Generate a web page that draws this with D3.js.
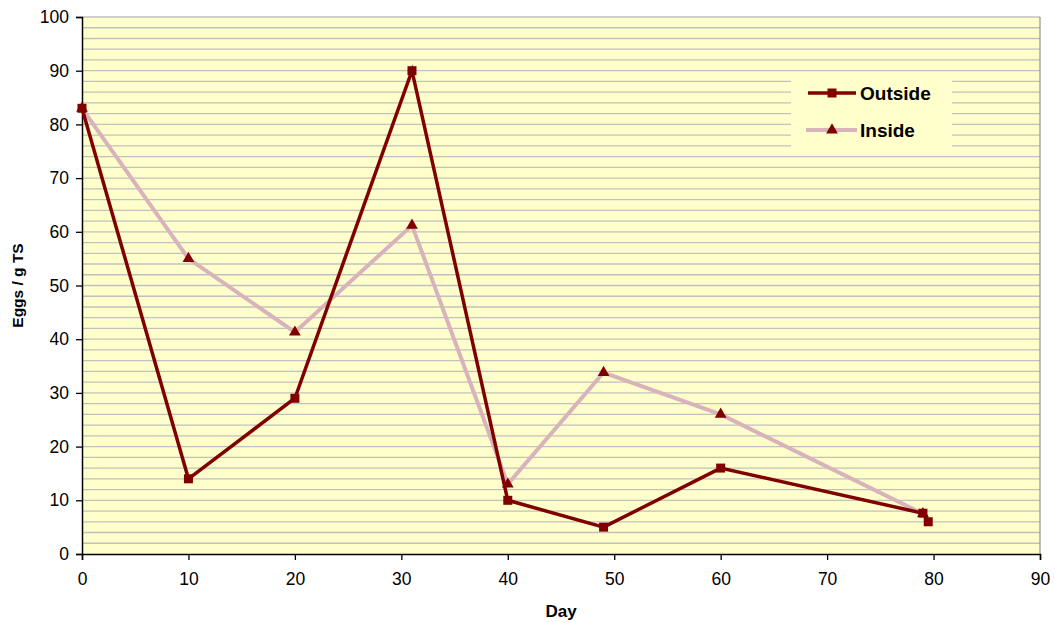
<!DOCTYPE html>
<html><head><meta charset="utf-8">
<script src="https://cdn.jsdelivr.net/npm/d3@7"></script>
<style>body{margin:0;background:#fff}svg{display:block}text{font-family:"Liberation Sans",Arial,sans-serif}</style>
</head><body><svg id="c" width="1055" height="623"></svg>
<script>
const outsideX = [0, 10, 20, 31, 40, 49, 60, 79, 79.5];
const outsideY = [83, 14, 29, 90, 10, 5, 16, 7.6, 6];
const insideX = [0, 10, 20, 31, 40, 49, 60, 79];
const insideY = [83, 55, 41.3, 61.2, 13, 33.8, 26, 7.5];
const xTicks = [0,10,20,30,40,50,60,70,80,90];
const yTicks = [0,10,20,30,40,50,60,70,80,90,100];
const seriesNames = ["Outside", "Inside"];

const svg = d3.select("#c");
const L=82, R=1040, T=17, B=554;
const x = d3.scaleLinear().domain([0,90]).range([L,R]);
const y = d3.scaleLinear().domain([0,100]).range([B,T]);

svg.append("rect").attr("x",L).attr("y",T).attr("width",R-L).attr("height",B-T).attr("fill","#FFFFCC");
const grid = d3.range(2,101,2);
svg.append("g").selectAll("line").data(grid).join("line")
  .attr("x1",L).attr("x2",R).attr("y1",d=>y(d)).attr("y2",d=>y(d))
  .attr("stroke","#c0c0c0").attr("stroke-width",1.3);
svg.append("line").attr("x1",R).attr("x2",R).attr("y1",T).attr("y2",B).attr("stroke","#999").attr("stroke-width",1.3);

const yAxis = svg.append("g").attr("transform",`translate(${L},0)`)
  .call(d3.axisLeft(y).tickValues(yTicks).tickSize(6).tickPadding(7));
const xAxis = svg.append("g").attr("transform",`translate(0,${B})`)
  .call(d3.axisBottom(x).tickValues(xTicks).tickSize(6).tickPadding(13));
[yAxis,xAxis].forEach(a=>{
  a.select(".domain").attr("stroke","#000").attr("stroke-width",1.5);
  a.selectAll(".tick line").attr("stroke","#000").attr("stroke-width",1.3);
  a.selectAll("text").attr("font-size",17.5).attr("fill","#000").attr("font-family","'Liberation Sans',Arial,sans-serif");
});

const line = d3.line().x(d=>x(d[0])).y(d=>y(d[1]));
const inside = insideX.map((v,i)=>[v,insideY[i]]);
const outside = outsideX.map((v,i)=>[v,outsideY[i]]);

svg.append("path").datum(inside).attr("d",line).attr("fill","none").attr("stroke","#D9B3BB").attr("stroke-width",4);
const tri = d3.symbol().type(d3.symbolTriangle).size(60);
svg.append("g").selectAll("path").data(inside).join("path")
  .attr("d",tri).attr("transform",d=>`translate(${x(d[0])},${y(d[1])})`).attr("fill","#800000");

svg.append("path").datum(outside).attr("d",line).attr("fill","none").attr("stroke","#800000").attr("stroke-width",3.5);
svg.append("g").selectAll("rect").data(outside).join("rect")
  .attr("x",d=>x(d[0])-4.5).attr("y",d=>y(d[1])-4.5).attr("width",9).attr("height",9).attr("fill","#800000");

svg.append("text").attr("x",561).attr("y",617).attr("text-anchor","middle").attr("font-size",17).attr("font-weight","bold").text("Day");
svg.append("text").attr("transform",`translate(23,${(T+B)/2}) rotate(-90)`).attr("text-anchor","middle").attr("font-size",15.5).attr("font-weight","bold").text("Eggs / g TS");

const lg = svg.append("g");
lg.append("rect").attr("x",791).attr("y",72).attr("width",161).attr("height",76).attr("fill","#FFFFCC");
const ly = [93,130];
lg.append("line").attr("x1",808).attr("x2",856).attr("y1",ly[0]).attr("y2",ly[0]).attr("stroke","#800000").attr("stroke-width",3.5);
lg.append("rect").attr("x",832-4.5).attr("y",ly[0]-4.5).attr("width",9).attr("height",9).attr("fill","#800000");
lg.append("line").attr("x1",806).attr("x2",857).attr("y1",ly[1]).attr("y2",ly[1]).attr("stroke","#D9B3BB").attr("stroke-width",4);
lg.append("path").attr("d",tri).attr("transform",`translate(832,${ly[1]})`).attr("fill","#800000");
lg.selectAll("text").data(seriesNames).join("text")
  .attr("x",860).attr("y",(d,i)=>ly[i]+7).attr("font-size",19).attr("font-weight","bold").text(d=>d);
</script></body></html>
